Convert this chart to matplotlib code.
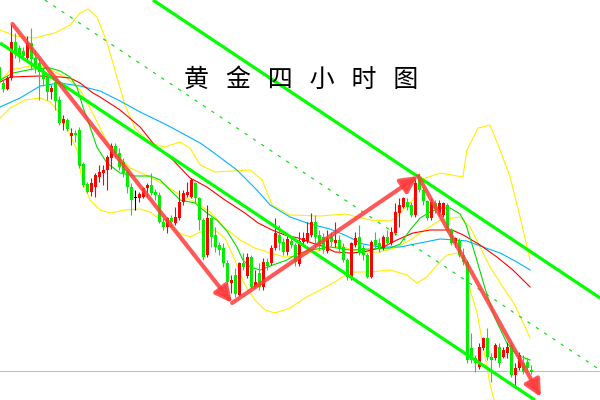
import matplotlib
matplotlib.use("Agg")
import matplotlib.pyplot as plt
import numpy as np

# ---- candle data (price units), index -1 .. 132 ----
opens = [333, 317, 311, 322, 358, 352, 349, 342, 357, 342, 337, 329, 323, 308, 318, 300, 277, 280, 264, 267,
         270, 236, 216, 208, 213, 223, 227, 230, 242, 254, 247, 238, 228, 213, 202, 202, 203, 212, 215, 208,
         205, 178, 173, 182, 177, 182, 198, 205, 203, 217, 202, 180, 145, 182, 165, 155, 152, 137, 117, 125,
         105, 137, 124, 143, 113, 127, 113, 138, 137, 152, 165, 158, 148, 159, 155, 136, 158, 159, 165, 178,
         165, 163, 149, 164, 157, 160, 153, 140, 122, 155, 163, 152, 145, 123, 160, 157, 152, 163, 157, 167,
         187, 193, 198, 195, 185, 222, 210, 199, 182, 197, 187, 185, 195, 170, 157, 160, 145, 138, 52, 42,
         33, 52, 62, 43, 42, 53, 43, 47, 55, 25, 32, 37, 38, 30]
highs = [335, 320, 324, 376, 367, 355, 353, 364, 372, 350, 342, 333, 326, 315, 321, 304, 285, 282, 272, 270,
         273, 238, 218, 222, 227, 235, 235, 245, 257, 257, 252, 242, 230, 217, 210, 208, 213, 217, 227, 211,
         208, 182, 183, 185, 193, 210, 210, 218, 222, 218, 203, 182, 195, 183, 173, 158, 157, 140, 125, 132,
         138, 147, 147, 145, 130, 137, 142, 142, 155, 182, 175, 162, 164, 162, 157, 168, 168, 178, 187, 185,
         170, 167, 170, 168, 178, 165, 157, 142, 158, 168, 175, 155, 147, 160, 168, 162, 165, 170, 173, 197,
         202, 203, 202, 198, 222, 227, 213, 200, 202, 200, 200, 198, 197, 172, 163, 162, 152, 140, 67, 45,
         57, 63, 72, 47, 57, 57, 53, 58, 58, 37, 48, 45, 42, 35]
lows = [316, 308, 310, 320, 342, 338, 340, 340, 330, 327, 300, 314, 300, 301, 290, 275, 270, 269, 255, 258,
        232, 213, 207, 204, 203, 218, 215, 210, 231, 242, 230, 223, 207, 185, 190, 198, 202, 203, 205, 200,
        177, 170, 167, 173, 175, 180, 195, 203, 202, 197, 170, 140, 143, 153, 148, 145, 133, 115, 107, 103,
        104, 130, 122, 112, 112, 110, 110, 130, 135, 150, 150, 145, 145, 152, 134, 134, 154, 157, 163, 152,
        150, 147, 147, 154, 153, 147, 138, 120, 120, 153, 145, 140, 122, 122, 152, 148, 150, 155, 155, 165,
        173, 192, 190, 183, 183, 208, 195, 180, 180, 187, 184, 183, 168, 155, 153, 143, 135, 37, 37, 28,
        31, 50, 40, 18, 40, 33, 42, 42, 23, 12, 30, 26, 28, 26]
closes = [318, 311, 322, 358, 348, 343, 344, 357, 341, 334, 328, 321, 308, 312, 299, 277, 281, 271, 267, 265,
          234, 215, 208, 217, 225, 228, 230, 243, 254, 247, 233, 227, 213, 200, 202, 206, 212, 215, 207, 205,
          178, 173, 182, 178, 183, 198, 207, 208, 220, 202, 180, 143, 182, 163, 153, 150, 137, 118, 120, 106,
          137, 133, 143, 113, 118, 113, 138, 134, 152, 167, 157, 148, 161, 155, 138, 159, 162, 167, 178, 163,
          156, 150, 162, 158, 160, 152, 140, 123, 157, 162, 147, 145, 123, 158, 155, 152, 163, 157, 168, 188,
          195, 202, 193, 185, 217, 210, 199, 182, 198, 191, 197, 197, 170, 157, 162, 145, 138, 40, 40, 37,
          53, 62, 43, 40, 55, 37, 50, 53, 25, 32, 45, 28, 32, 28]
first_index = -1

# ---- indicator lines: (bar index, price) knots ----
ma_red_x = [-0.8, 1.7, 9.2, 14.2, 16.7, 19.2, 22.4, 24.2, 29.2, 34.2, 37.4, 39.2, 42.4, 46.7, 50.9, 55.4, 60.4,
            63.7, 67.2, 70.4, 73.7, 77.2, 80.4, 82.9, 86.7, 90.0, 95.0, 98.4, 102.4, 106.7, 112.2, 115.0, 119.2,
            123.4, 127.4, 131.7]
ma_red_y = [318, 323, 324, 323, 322, 317, 307, 303, 290, 273, 257, 250, 240, 222, 213, 200, 187, 177, 170, 165,
            162, 157, 153, 148, 147, 148, 153, 160, 167, 170, 170, 165, 155, 143, 130, 113]

ma_blue_x = [-0.8, 4.2, 9.2, 14.2, 19.2, 24.2, 29.2, 34.2, 40.9, 49.2, 51.7, 58.4, 63.4, 66.7, 71.7, 76.7, 81.7,
             85.9, 89.9, 94.2, 99.2, 104.2, 109.2, 112.9, 115.9, 119.9, 124.2, 128.4, 131.7]
ma_blue_y = [293, 302, 314, 317, 314, 309, 299, 288, 275, 257, 250, 230, 210, 195, 183, 176, 171, 164, 156, 153,
             153, 157, 161, 160, 159, 153, 147, 138, 130]

ma_green_x = [-0.8, 2.4, 7.4, 11.7, 14.2, 16.7, 18.4, 19.9, 21.7, 23.4, 25.9, 29.2, 32.9, 36.7, 39.2, 41.7, 44.2,
              47.9, 50.9, 53.4, 55.9, 58.4, 59.9, 61.7, 64.2, 67.4, 70.9, 73.4, 76.7, 81.7, 86.7, 91.7, 96.7,
              99.2, 101.7, 104.2, 106.7, 109.2, 111.7, 114.2, 115.7, 118.0, 120.4, 122.9, 125.9, 128.4, 131.7]
ma_green_y = [320, 327, 331, 332, 329, 323, 313, 293, 273, 253, 237, 227, 224, 224, 220, 210, 200, 197, 187, 180,
              169, 153, 140, 133, 130, 135, 140, 146, 150, 153, 150, 151, 152, 156, 170, 182, 188, 192, 192, 186,
              175, 145, 112, 82, 57, 45, 40]

bb_up_x = [-0.8, 2.9, 7.9, 12.9, 16.7, 19.2, 21.2, 23.4, 25.9, 27.9, 30.4, 32.9, 36.7, 40.4, 44.2, 46.7, 49.2,
           52.9, 61.7, 64.7, 67.2, 71.7, 79.2, 85.4, 91.7, 96.7, 98.4, 102.4, 104.2, 109.2, 114.9, 115.9, 118.7,
           121.7, 124.2, 126.7, 129.2, 131.7]
bb_up_y = [370, 364, 362, 367, 375, 387, 391, 383, 358, 330, 295, 272, 257, 253, 258, 252, 235, 228, 230, 220,
           195, 185, 184, 186, 180, 179, 183, 200, 220, 227, 223, 250, 272, 275, 250, 223, 183, 140]

bb_mid_x = [-0.8, 1.7, 6.7, 10.4, 12.9, 15.9, 19.2, 21.7, 24.2, 26.7, 31.7, 36.7, 40.4, 44.2, 47.9, 51.7, 55.4,
            59.2, 62.9, 66.7, 70.4, 74.2, 79.2, 84.2, 89.2, 94.2, 97.9, 101.7, 105.4, 109.2, 114.2, 116.7, 119.2,
            121.7, 124.9, 127.9, 131.7]
bb_mid_y = [318, 330, 334, 333, 328, 322, 310, 292, 272, 252, 232, 223, 215, 205, 198, 188, 172, 160, 152, 147,
            143, 144, 150, 154, 148, 148, 152, 160, 170, 180, 183, 173, 153, 133, 113, 95, 62]

bb_low_x = [-0.8, 1.7, 5.4, 9.2, 11.7, 13.4, 15.9, 18.4, 19.7, 21.7, 24.2, 26.7, 30.4, 34.2, 36.7, 39.9, 43.4,
            46.7, 49.2, 52.9, 55.4, 57.9, 60.4, 62.9, 65.4, 67.9, 71.7, 75.4, 79.2, 82.9, 86.7, 91.7, 96.7,
            100.9, 103.4, 105.9, 108.4, 110.9, 113.4, 115.2, 116.7, 118.4, 119.9, 121.7, 122.7]
bb_low_y = [282, 292, 300, 302, 298, 290, 272, 250, 220, 200, 190, 187, 190, 191, 188, 178, 168, 163, 168, 170,
            162, 140, 115, 100, 90, 87, 92, 102, 110, 118, 128, 128, 130, 125, 117, 123, 135, 145, 147, 142, 110,
            88, 55, 15, 0]

# ---- trend channel, mid dashed line, arrows, reference level ----
chan_upper_x = [37.4, 149.2]
chan_upper_y = [400, 102]
chan_lower_x = [-0.8, 132.9]
chan_lower_y = [357, 0]
chan_mid_x = [10.4, 149.2]
chan_mid_y = [400, 30]
arrow_x = [2.3, 57.2, 103.7, 134.4]
arrow_y = [376, 97, 224, 3]
ref_level = 29
title = "黄   金   四   小   时   图"

fig = plt.figure(figsize=(6, 4), dpi=100)
ax = fig.add_axes([0, 0, 1, 1])
ax.set_xlim(-0.825, 149.175)
ax.set_ylim(0, 400)
ax.axis("off")
fig.patch.set_facecolor("white")

YEL = "#ffee00"
ax.plot(bb_up_x, bb_up_y, color=YEL, lw=0.8, zorder=1)
ax.plot(bb_mid_x, bb_mid_y, color=YEL, lw=0.8, zorder=1)
ax.plot(bb_low_x, bb_low_y, color=YEL, lw=0.8, zorder=1)
ax.plot(ma_blue_x, ma_blue_y, color="#00b4ff", lw=0.8, zorder=2)
ax.plot(ma_red_x, ma_red_y, color="#ff0000", lw=0.8, zorder=2)
ax.plot(ma_green_x, ma_green_y, color="#00dd00", lw=0.8, zorder=2)

ax.axhline(ref_level, color="#c0c0c0", lw=0.8, zorder=1)

n = len(opens)
idx = np.arange(first_index, first_index + n)
o = np.array(opens, float); c = np.array(closes, float)
h = np.array(highs, float); l = np.array(lows, float)
cols = np.where(c > o, "#ff0000", np.where(c < o, "#00ee00", "#000000"))
ax.vlines(idx, l, h, colors=cols, lw=0.8, zorder=3)
bh = np.abs(c - o)
bh = np.where(bh < 1, 1, bh)
ax.bar(idx, bh, bottom=np.minimum(o, c), width=0.8, color=cols, linewidth=0, zorder=4)

ax.plot(chan_upper_x, chan_upper_y, color="#00ff00", lw=2.3, zorder=5, solid_capstyle="butt")
ax.plot(chan_lower_x, chan_lower_y, color="#00ff00", lw=2.3, zorder=5, solid_capstyle="butt")
ax.plot(chan_mid_x, chan_mid_y, color="#00dd00", lw=0.8, ls=(0, (3, 6)), zorder=5)

for k in range(len(arrow_x) - 1):
    ax.annotate("", xy=(arrow_x[k + 1], arrow_y[k + 1]), xytext=(arrow_x[k], arrow_y[k]),
                arrowprops=dict(arrowstyle="-|>,head_length=1.0,head_width=0.5", color="#ff3b3b",
                                lw=3, alpha=0.85, shrinkA=0, shrinkB=0), zorder=6)

ax.text(0.502, 0.80, title, transform=ax.transAxes, ha="center", va="center",
        fontsize=18, family=["Noto Sans CJK SC", "DejaVu Sans"], fontweight="light", color="black", zorder=7)

fig.savefig("out.png", dpi=100, facecolor="white")
